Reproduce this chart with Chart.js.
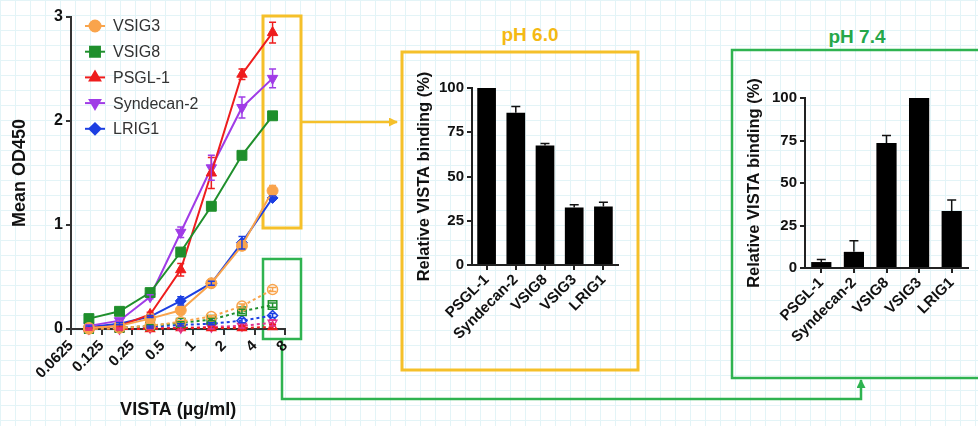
<!DOCTYPE html>
<html>
<head>
<meta charset="utf-8">
<script src="https://cdn.jsdelivr.net/npm/chart.js@4.4.0/dist/chart.umd.min.js"></script>
<style>
  html, body { margin:0; padding:0; }
  body {
    width:978px; height:426px; overflow:hidden; position:relative; background-color:#fff;
    background-image: linear-gradient(#e3f4f7 1px, transparent 1px), linear-gradient(90deg, #e3f4f7 1px, transparent 1px);
    background-size: 15px 15px;
    font-family: 'Liberation Sans', Arial, sans-serif;
  }
  canvas { position:absolute; }
  #deco { position:absolute; left:0; top:0; }
  .ph { position:absolute; font-weight:bold; font-size:19px; transform:translateX(-50%); white-space:nowrap; }
</style>
</head>
<body>
<svg id="deco" width="978" height="426">
  <defs>
    <marker id="arrY" markerWidth="9" markerHeight="9" refX="8" refY="4.5" orient="auto" markerUnits="userSpaceOnUse">
      <path d="M0,0 L9,4.5 L0,9 z" fill="#f5c02a"/>
    </marker>
    <marker id="arrG" markerWidth="9" markerHeight="9" refX="8" refY="4.5" orient="auto" markerUnits="userSpaceOnUse">
      <path d="M0,0 L9,4.5 L0,9 z" fill="#2fb350"/>
    </marker>
  </defs>
  <rect x="263" y="16" width="38" height="212" fill="none" stroke="#f5c02a" stroke-width="3"/>
  <line x1="301" y1="122" x2="397" y2="122" stroke="#f5c02a" stroke-width="2.5" marker-end="url(#arrY)"/>
  <rect x="402" y="52" width="236" height="318" fill="none" stroke="#f5c02a" stroke-width="3"/>
  <rect x="263" y="259" width="38" height="80" fill="none" stroke="#2fb350" stroke-width="2.5"/>
  <polyline points="282,339 282,399 861,399 861,380" fill="none" stroke="#2fb350" stroke-width="2.5" marker-end="url(#arrG)"/>
  <rect x="732" y="50" width="262" height="328" fill="none" stroke="#2fb350" stroke-width="2.5"/>
</svg>

<div class="ph" style="left:530px;top:24px;color:#f4b914;">pH 6.0</div>
<div class="ph" style="left:857px;top:26px;color:#25a74a;">pH 7.4</div>

<canvas id="lineChart" width="300" height="426" style="left:0;top:0;"></canvas>
<canvas id="bar6Chart" width="236" height="318" style="left:402px;top:52px;"></canvas>
<canvas id="bar7Chart" width="246" height="328" style="left:732px;top:50px;"></canvas>

<script>
// ---- Data ----
const concentrations = [0.09375, 0.1875, 0.375, 0.75, 1.5, 3, 6];
const xTicks      = [0.0625, 0.125, 0.25, 0.5, 1, 2, 4, 8];
const xTickLabels = ['0.0625', '0.125', '0.25', '0.5', '1', '2', '4', '8'];
const yTicksLine  = [0, 1, 2, 3];

// pH 6.0 (solid)
const vsig3_ph6 = [0.01, 0.03, 0.10, 0.18, 0.44, 0.80, 1.33];
const vsig8_ph6 = [0.10, 0.17, 0.35, 0.74, 1.18, 1.67, 2.05];
const psgl_ph6  = [0.01, 0.03, 0.14, 0.57, 1.50, 2.45, 2.85];
const synd_ph6  = [0.03, 0.08, 0.31, 0.93, 1.55, 2.13, 2.41];
const lrig_ph6  = [0.02, 0.05, 0.12, 0.27, 0.44, 0.83, 1.26];
const vsig3_ph6_err = [0.005, 0.01, 0.01, 0.02, 0.02, 0.04, 0.05];
const vsig8_ph6_err = [0.01, 0.01, 0.02, 0.03, 0.02, 0.02, 0.02];
const psgl_ph6_err  = [0.005, 0.01, 0.02, 0.06, 0.15, 0.05, 0.10];
const synd_ph6_err  = [0.01, 0.01, 0.02, 0.05, 0.12, 0.10, 0.09];
const lrig_ph6_err  = [0.01, 0.01, 0.01, 0.04, 0.02, 0.06, 0.02];

// pH 7.4 (dashed, open symbols)
const vsig3_ph7 = [0.00, 0.01, 0.03, 0.07, 0.12, 0.22, 0.38];
const vsig8_ph7 = [0.00, 0.01, 0.03, 0.06, 0.09, 0.17, 0.23];
const psgl_ph7  = [0.00, 0.00, 0.00, 0.01, 0.01, 0.01, 0.02];
const synd_ph7  = [0.00, 0.00, 0.01, 0.01, 0.02, 0.03, 0.06];
const lrig_ph7  = [0.00, 0.01, 0.02, 0.04, 0.05, 0.08, 0.13];
const vsig3_ph7_err = [0, 0, 0.01, 0.01, 0.01, 0.02, 0.02];
const vsig8_ph7_err = [0, 0, 0.01, 0.01, 0.01, 0.02, 0.02];
const psgl_ph7_err  = [0.01, 0.01, 0.01, 0.02, 0.02, 0.02, 0.02];
const synd_ph7_err  = [0.01, 0.01, 0.01, 0.02, 0.02, 0.02, 0.03];
const lrig_ph7_err  = [0, 0, 0.01, 0.01, 0.01, 0.02, 0.02];

// Relative binding bars
const barLabels  = ['PSGL-1', 'Syndecan-2', 'VSIG8', 'VSIG3', 'LRIG1'];
const bind_ph6   = [100, 86, 67.5, 32.5, 33];
const bind_ph6_err = [0, 3.5, 1.2, 1.5, 2.5];
const bind_ph7   = [3.5, 9.5, 73.5, 100, 33.5];
const bind_ph7_err = [1.5, 6.5, 4.5, 0, 6.5];
const yTicksBar  = [0, 25, 50, 75, 100];

const COLORS = { vsig3:'#f9a44c', vsig8:'#1f8f2c', psgl:'#ee1d1d', synd:'#a03ce6', lrig:'#1c3fe2', syndOpen:'#e0358f' };
const FONT = "'Liberation Sans', Arial, sans-serif";

// ---- Plugins ----
const errorBarPlugin = {
  id: 'errorBars',
  afterDatasetsDraw(chart, args, opts) {
    const ctx = chart.ctx;
    chart.data.datasets.forEach((ds, di) => {
      if (!ds.errors) return;
      const meta  = chart.getDatasetMeta(di);
      const yScale = chart.scales[meta.yAxisID];
      ctx.save();
      ctx.strokeStyle = ds.errorColor || ds.borderColor;
      ctx.lineWidth = opts.width || 1.5;
      meta.data.forEach((el, i) => {
        const e = ds.errors[i];
        if (!e) return;
        const d = ds.data[i];
        const v = (typeof d === 'object') ? d.y : d;
        const top = yScale.getPixelForValue(v + e);
        const bot = opts.symmetric ? yScale.getPixelForValue(v - e) : el.y;
        const c = opts.cap || 4;
        ctx.beginPath();
        ctx.moveTo(el.x, bot); ctx.lineTo(el.x, top);
        ctx.moveTo(el.x - c, top); ctx.lineTo(el.x + c, top);
        if (opts.symmetric) { ctx.moveTo(el.x - c, bot); ctx.lineTo(el.x + c, bot); }
        ctx.stroke();
      });
      ctx.restore();
    });
  }
};

const lineLegendPlugin = {
  id: 'lineLegend',
  afterDraw(chart, args, opts) {
    if (!opts.display) return;
    const ctx = chart.ctx;
    const left = chart.chartArea.left, top = chart.chartArea.top;
    chart.data.datasets.slice(0, opts.count).forEach((ds, i) => {
      const y  = top + 9 + i * 25.7;
      const x0 = left + 14, x1 = left + 34;
      ctx.save();
      ctx.strokeStyle = ds.borderColor; ctx.fillStyle = ds.pointBackgroundColor; ctx.lineWidth = 2;
      ctx.beginPath(); ctx.moveTo(x0, y); ctx.lineTo(x1, y); ctx.stroke();
      Chart.helpers.drawPoint(ctx, { pointStyle: ds.pointStyle, radius: ds.pointRadius, rotation: ds.pointRotation || 0, borderWidth: 1 }, (x0 + x1) / 2, y);
      ctx.fillStyle = '#333';
      ctx.font = '16px ' + FONT;
      ctx.textBaseline = 'middle';
      ctx.fillText(ds.label, left + 42, y + 1);
      ctx.restore();
    });
  }
};

// ---- Line chart ----
function series(label, values, errs, color, style, radius, rot, open) {
  return {
    label,
    data: values.map((v, i) => ({ x: concentrations[i], y: v })),
    errors: errs,
    borderColor: color,
    backgroundColor: color,
    borderWidth: 2,
    borderDash: open ? [3, 3] : [],
    pointStyle: style,
    pointRadius: radius,
    pointRotation: rot,
    pointBorderWidth: open ? 1.5 : 1,
    pointBackgroundColor: open ? 'rgba(255,255,255,0)' : color,
    pointBorderColor: color,
    tension: 0,
    clip: false
  };
}

new Chart(document.getElementById('lineChart'), {
  type: 'line',
  data: {
    datasets: [
      series('VSIG3',      vsig3_ph6, vsig3_ph6_err, COLORS.vsig3, 'circle',   5.5, 0,   false),
      series('VSIG8',      vsig8_ph6, vsig8_ph6_err, COLORS.vsig8, 'rect',     7,   0,   false),
      series('PSGL-1',     psgl_ph6,  psgl_ph6_err,  COLORS.psgl,  'triangle', 6,   0,   false),
      series('Syndecan-2', synd_ph6,  synd_ph6_err,  COLORS.synd,  'triangle', 6,   180, false),
      series('LRIG1',      lrig_ph6,  lrig_ph6_err,  COLORS.lrig,  'rectRot',  5.5, 0,   false),
      series('VSIG3 pH 7.4',      vsig3_ph7, vsig3_ph7_err, COLORS.vsig3,    'circle',   5, 0,   true),
      series('VSIG8 pH 7.4',      vsig8_ph7, vsig8_ph7_err, COLORS.vsig8,    'rect',     6, 0,   true),
      series('PSGL-1 pH 7.4',     psgl_ph7,  psgl_ph7_err,  COLORS.psgl,     'triangle', 5, 0,   true),
      series('Syndecan-2 pH 7.4', synd_ph7,  synd_ph7_err,  COLORS.syndOpen, 'triangle', 5, 180, true),
      series('LRIG1 pH 7.4',      lrig_ph7,  lrig_ph7_err,  COLORS.lrig,     'rectRot',  5, 0,   true),
    ]
  },
  options: {
    responsive: false,
    animation: false,
    layout: { padding: { top: 17, right: 13, left: 0, bottom: 0 } },
    plugins: {
      legend: { display: false },
      tooltip: { enabled: false },
      errorBars: { symmetric: true, cap: 3.5, width: 1.5 },
      lineLegend: { display: true, count: 5 }
    },
    scales: {
      x: {
        type: 'logarithmic', min: 0.0625, max: 8,
        afterBuildTicks: s => { s.ticks = xTicks.map(v => ({ value: v })); },
        afterFit: s => { s.height = 97; },
        ticks: { callback: (v, i) => xTickLabels[i], minRotation: 45, maxRotation: 45, autoSkip: false,
                 font: { family: FONT, weight: 'bold', size: 15 }, color: '#111', padding: 2 },
        grid: { drawOnChartArea: false, drawTicks: true, tickLength: 6, color: '#333', lineWidth: 2 },
        border: { color: '#333', width: 2 },
        title: { display: true, text: 'VISTA (µg/ml)', font: { family: FONT, weight: 'bold', size: 18 }, color: '#111', padding: { top: 0, bottom: 5 } }
      },
      y: {
        min: 0, max: 3,
        afterBuildTicks: s => { s.ticks = yTicksLine.map(v => ({ value: v })); },
        afterFit: s => { s.width = 71; },
        ticks: { font: { family: FONT, weight: 'bold', size: 16 }, color: '#111', padding: 3 },
        grid: { drawOnChartArea: false, drawTicks: true, tickLength: 5, color: '#333', lineWidth: 2 },
        border: { color: '#333', width: 2 },
        title: { display: true, text: 'Mean OD450', font: { family: FONT, weight: 'bold', size: 18 }, color: '#111', padding: { top: 9, bottom: 0 } }
      }
    }
  },
  plugins: [errorBarPlugin, lineLegendPlugin]
});

// ---- Bar charts ----
function barChart(id, values, errs, pad, yWidth, xHeight, barPct) {
  return new Chart(document.getElementById(id), {
    type: 'bar',
    data: {
      labels: barLabels,
      datasets: [{ label: 'Relative VISTA binding', data: values, errors: errs, errorColor: '#111',
                   backgroundColor: '#000', borderColor: '#000', borderWidth: 0,
                   barPercentage: barPct, categoryPercentage: 1 }]
    },
    options: {
      responsive: false,
      animation: false,
      layout: { padding: pad },
      plugins: { legend: { display: false }, tooltip: { enabled: false }, errorBars: { symmetric: false, cap: 4.5, width: 1.5 } },
      scales: {
        x: {
          afterFit: s => { s.height = xHeight; },
          ticks: { minRotation: 45, maxRotation: 45, autoSkip: false, font: { family: FONT, weight: 'bold', size: 15 }, color: '#111', padding: 1 },
          grid: { offset: false, drawOnChartArea: false, drawTicks: true, tickLength: 5, color: '#222', lineWidth: 2 },
          border: { color: '#222', width: 2 }
        },
        y: {
          min: 0, max: 100,
          afterBuildTicks: s => { s.ticks = yTicksBar.map(v => ({ value: v })); },
          afterFit: s => { s.width = yWidth; },
          ticks: { font: { family: FONT, weight: 'bold', size: 15 }, color: '#111', padding: 3 },
          grid: { drawOnChartArea: false, drawTicks: true, tickLength: 5, color: '#222', lineWidth: 2 },
          border: { color: '#222', width: 2 },
          title: { display: true, text: 'Relative VISTA binding (%)', font: { family: FONT, weight: 'bold', size: 16.5 }, color: '#111', padding: { top: 13, bottom: 0 } }
        }
      }
    },
    plugins: [errorBarPlugin]
  });
}

barChart('bar6Chart', bind_ph6, bind_ph6_err, { top: 36, right: 20, left: 0, bottom: 0 }, 70, 105, 0.64);
barChart('bar7Chart', bind_ph7, bind_ph7_err, { top: 48, right: 10, left: 0, bottom: 0 }, 73, 110, 0.62);
</script>
</body>
</html>
